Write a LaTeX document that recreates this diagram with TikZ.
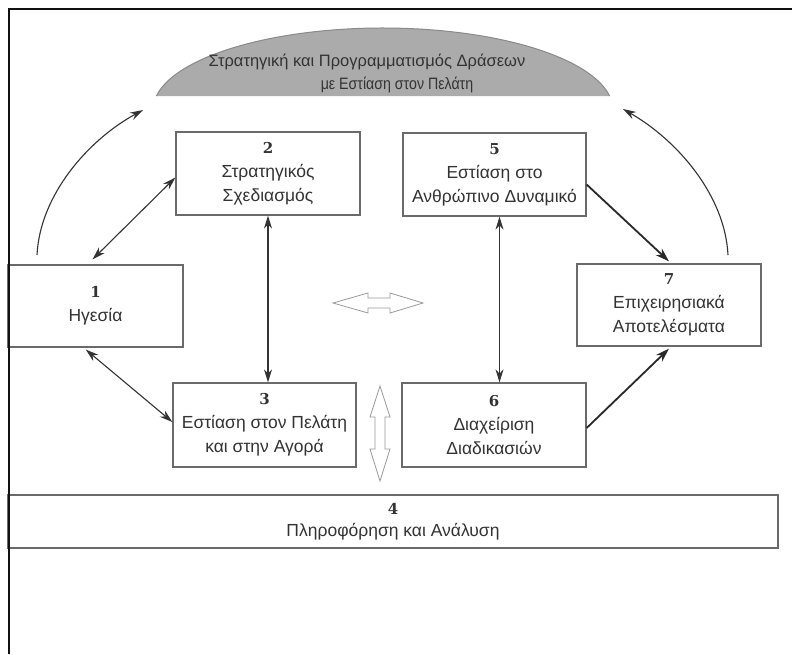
\documentclass[tikz,border=0pt]{standalone}
\usepackage{fontspec}
\usetikzlibrary{arrows.meta}
\newfontfamily\grk{Liberation Sans}
\newfontfamily\grknarrow[FakeStretch=0.86]{Liberation Sans}
\newfontfamily\numfont{DejaVu Serif}
\newcommand\stagenum{\numfont\bfseries\fontsize{15}{24}\selectfont}
\definecolor{framec}{HTML}{111111}
\definecolor{boxc}{HTML}{6A6A6A}
\definecolor{txtc}{HTML}{333333}
\definecolor{domefill}{HTML}{ABABAB}
\definecolor{domeline}{HTML}{8A8A8A}
\definecolor{arrc}{HTML}{333333}
\definecolor{hollowc}{HTML}{9A9A9A}

\begin{document}
\begin{tikzpicture}[x=1pt,y=-1pt,
  stagebox/.style={draw=boxc, line width=1.3pt, fill=white, align=center,
    text=txtc, font=\grk\fontsize{17.5}{24}\selectfont, inner sep=0pt},
  domelabel/.style={text=txtc, inner sep=0pt},
  link/.style={draw=arrc, line width=1.1pt},
  twoway/.style={link, {Stealth[length=13pt,width=8pt]}-{Stealth[length=13pt,width=8pt]}},
  oneway/.style={link, -{Stealth[length=13pt,width=8pt]}},
  strong/.style={draw=arrc!80!black, line width=1.8pt, -{Stealth[length=14pt,width=9pt]}},
  hollow/.style={draw=hollowc, line width=0.8pt, fill=white}
]
\useasboundingbox (0,0) rectangle (792,654);
\fill[white] (0,0) rectangle (792,654);

% dome heading: an elliptic cap cut off by a flat base
\fill[domefill] (383,110) ++(189.83:230 and 82) arc[start angle=189.83,end angle=350.17,x radius=230,y radius=82] -- cycle;
\draw[domeline, line width=1pt] (383,110) ++(189.83:230 and 82) arc[start angle=189.83,end angle=350.17,x radius=230,y radius=82];
\node[domelabel, font=\grk\fontsize{16.5}{20}\selectfont] (d1) at (367,62) {Στρατηγική και Προγραμματισμός Δράσεων};
\node[domelabel, font=\grknarrow\fontsize{16.5}{20}\selectfont] (d2) at (397,85) {με Εστίαση στον Πελάτη};

% stage boxes
\node[stagebox, minimum width=175pt, minimum height=82pt] (b1) at (95.5,306) {{\stagenum 1}\\Ηγεσία};
\node[stagebox, minimum width=184pt, minimum height=83pt] (b2) at (268,173.5) {{\stagenum 2}\\Στρατηγικός\\Σχεδιασμός};
\node[stagebox, minimum width=183pt, minimum height=84pt] (b3) at (264.5,425) {{\stagenum 3}\\Εστίαση στον Πελάτη\\και στην Αγορά};
\node[stagebox, minimum width=770pt, minimum height=53pt, font=\grk\fontsize{17.5}{22}\selectfont] (b4) at (393,521.5) {{\stagenum 4}\\Πληροφόρηση και Ανάλυση};
\node[stagebox, minimum width=183pt, minimum height=83pt] (b5) at (494.5,174.5) {{\stagenum 5}\\Εστίαση στο\\Ανθρώπινο Δυναμικό};
\node[stagebox, minimum width=184pt, minimum height=84pt] (b6) at (494,425) {{\stagenum 6}\\Διαχείριση\\Διαδικασιών};
\node[stagebox, minimum width=184pt, minimum height=82pt] (b7) at (669,305) {{\stagenum 7}\\Επιχειρησιακά\\Αποτελέσματα};

% free ends of the two feedback arcs
\coordinate (lstart) at (37,255);
\coordinate (lend) at (143,110);
\coordinate (rstart) at (728,255);
\coordinate (rend) at (623,109);

% feedback arcs towards the dome
\draw[oneway] (lstart) .. controls (40,195) and (88,140) .. (lend);
\draw[oneway] (rstart) .. controls (725,195) and (677,140) .. (rend);

% links between stages
\draw[twoway, shorten <=7pt] ([xshift=-8pt]b1.north) -- ([yshift=-4pt]b2.west);
\draw[twoway, shorten <=3pt] ([xshift=-12pt]b1.south) -- ([yshift=3pt]b3.west);
\draw[twoway] (b2.south) -- (b2.south |- b3.north);
\draw[twoway] ([xshift=5pt]b5.south) -- ([xshift=5pt]b5.south |- b6.north);
\draw[strong] ([yshift=-10pt]b5.east) -- ([yshift=2pt]b7.north);
\draw[strong] ([yshift=-3pt]b6.east) -- ([yshift=-2pt]b7.south);

% hollow double arrows
\draw[hollow] (333,303) -- (368,293) -- (368,298) -- (390,298) -- (390,293) -- (423,303)
  -- (390,313) -- (390,308) -- (368,308) -- (368,313) -- cycle;
\draw[hollow] (380,386) -- (390,417) -- (385,417) -- (385,449) -- (390,449) -- (380,481)
  -- (370,449) -- (375,449) -- (375,417) -- (370,417) -- cycle;

% outer frame
\draw[framec, line width=2.5pt] (9,654) -- (9,9) -- (792,9);
\end{tikzpicture}
\end{document}
